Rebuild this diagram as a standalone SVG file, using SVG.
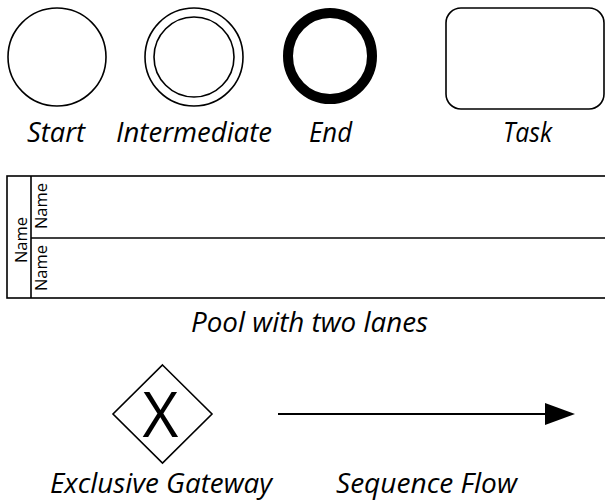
<svg xmlns="http://www.w3.org/2000/svg" width="605" height="502" viewBox="0 0 605 502">
  <style>
    .shape { fill: #ffffff; stroke: #000000; stroke-width: 1.6; }
    .label { font-family: "Open Sans", "Liberation Sans", sans-serif; font-style: italic; font-size: 27px; fill: #000000; }
    .name { font-family: "Open Sans", "Liberation Sans", sans-serif; font-size: 16.5px; fill: #000000; text-anchor: middle; }
    .flow { stroke: #000000; stroke-width: 2; fill: none; }
  </style>
  <defs>
    <clipPath id="topclip">
      <rect x="0" y="7" width="605" height="495"/>
    </clipPath>
    <marker id="arrow" markerUnits="userSpaceOnUse" markerWidth="32" markerHeight="24" refX="1" refY="11" orient="auto">
      <polygon points="0,0 30,11 0,22" fill="#000000"/>
    </marker>
  </defs>
  <rect x="0" y="0" width="605" height="502" fill="#ffffff"/>

  <g id="start">
    <circle class="shape" cx="57" cy="57" r="49"/>
    <text class="label" x="27" y="142" textLength="58" lengthAdjust="spacingAndGlyphs">Start</text>
  </g>

  <g id="intermediate">
    <circle class="shape" cx="194" cy="57" r="49"/>
    <circle class="shape" cx="194" cy="57" r="40"/>
    <text class="label" x="116" y="142" textLength="156" lengthAdjust="spacingAndGlyphs">Intermediate</text>
  </g>

  <g id="end">
    <ellipse cx="330" cy="56" rx="42" ry="43" fill="#ffffff" stroke="#000000" stroke-width="10" clip-path="url(#topclip)"/>
    <text class="label" x="309" y="142" textLength="43" lengthAdjust="spacingAndGlyphs">End</text>
  </g>

  <g id="task">
    <rect class="shape" x="446" y="8" width="158" height="101" rx="15" ry="15"/>
    <text class="label" x="503" y="142" textLength="49" lengthAdjust="spacingAndGlyphs">Task</text>
  </g>

  <g id="pool">
    <rect class="shape" x="7" y="176" width="610" height="122"/>
    <line x1="31" y1="176" x2="31" y2="298" stroke="#000000" stroke-width="1.6"/>
    <text class="name" transform="translate(27,240) rotate(-90)">Name</text>
    <g id="lane1">
      <text class="name" transform="translate(47,206) rotate(-90)">Name</text>
    </g>
    <g id="lane2">
      <line x1="31" y1="238" x2="617" y2="238" stroke="#000000" stroke-width="1.6"/>
      <text class="name" transform="translate(47,268) rotate(-90)">Name</text>
    </g>
    <text class="label" x="191" y="332" textLength="237" lengthAdjust="spacingAndGlyphs">Pool with two lanes</text>
  </g>

  <g id="gateway">
    <polygon class="shape" points="162.5,365 212,414 162.5,463 113,414" stroke-width="1.4"/>
    <text x="160.5" y="437" text-anchor="middle" font-family="Open Sans, Liberation Sans, sans-serif" font-size="62" fill="#000000">X</text>
    <text class="label" x="50" y="493" textLength="222" lengthAdjust="spacingAndGlyphs">Exclusive Gateway</text>
  </g>

  <g id="connectors">
    <line class="flow" x1="278" y1="414" x2="546" y2="414" marker-end="url(#arrow)"/>
    <text class="label" x="336" y="493" textLength="181" lengthAdjust="spacingAndGlyphs">Sequence Flow</text>
  </g>
</svg>
